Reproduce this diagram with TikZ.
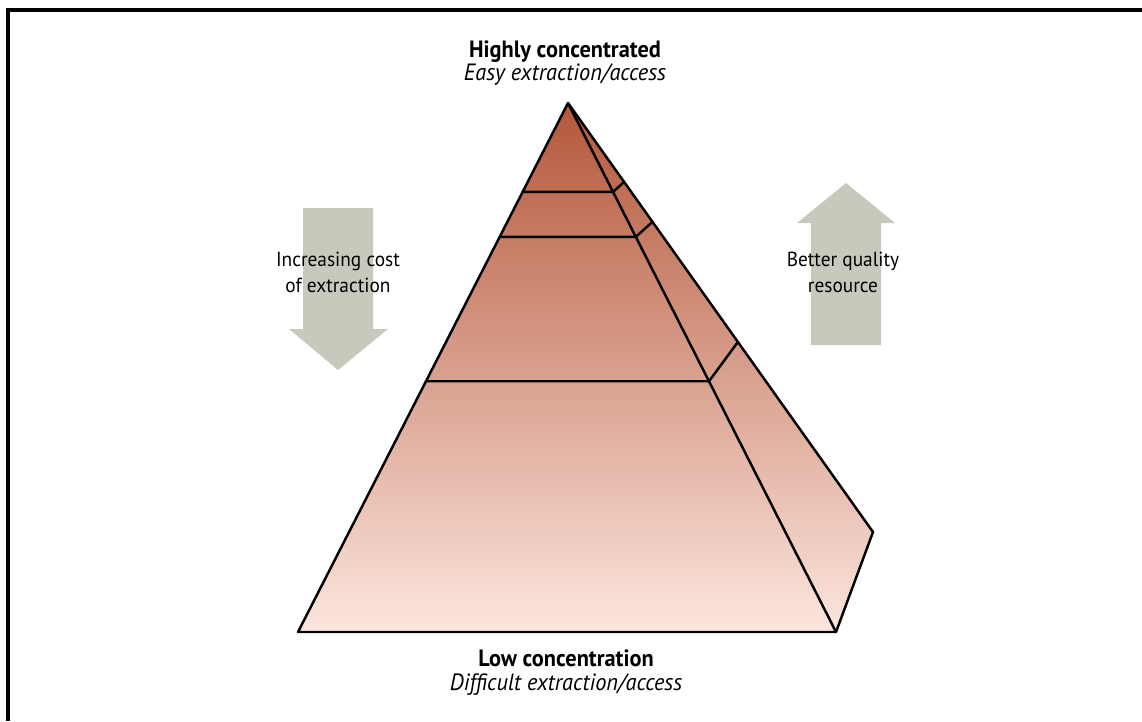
\documentclass[tikz,border=0pt]{standalone}
\usepackage{fontspec}
\setmainfont{PT Sans}[FakeStretch=0.95]
\usetikzlibrary{calc}
\definecolor{pyrtop}{HTML}{B4573A}
\definecolor{pyrbot}{HTML}{FCE6DE}
\definecolor{arrowgrey}{HTML}{C8C9BD}
\tikzset{edge/.style = {line width=1.4pt, line join=round},
         arrowtext/.style = {align=center, font=\fontsize{11.6}{14.7}\selectfont},
         headtext/.style = {align=center, font=\fontsize{13.4}{13.6}\selectfont}}

\begin{document}
\begin{tikzpicture}[x=0.02cm, y=-0.02cm]
    \useasboundingbox (0,0) rectangle (1142,721);
    \draw [line width=2pt] (8,721) -- (8,10) -- (1142,10);
    \fill[arrowgrey] (303,208) -- (373,208) -- (373,329) -- (388,329) -- (338,370) -- (289,329) -- (303,329) -- cycle;
    \fill[arrowgrey] (811,345) -- (881,345) -- (881,223) -- (895,223) -- (846,183) -- (797,223) -- (811,223) -- cycle;
    \coordinate (apex) at (568,103);
    \coordinate (frontL) at (298,632);
    \coordinate (frontR) at (836,632);
    \coordinate (back) at (873,532);
    \shade[top color=pyrtop, bottom color=pyrbot] (apex) -- (frontL) -- (frontR) -- (back) -- cycle;
    \draw[edge] (apex) -- (frontL) -- (frontR) -- (back) -- cycle;
    \draw[edge] (apex) -- (frontR);
    \foreach \a/\b in {0.168/0.184, 0.253/0.277, 0.526/0.557}
      \draw[edge] ($(apex)!\a!(frontL)$) -- ($(apex)!\a!(frontR)$) -- ($(apex)!\b!(back)$);
    \node[headtext] (high) at (565,63) {\textbf{Highly concentrated}\\\textit{Easy extraction/access}};
    \node[headtext] (low) at (566,673) {\textbf{Low concentration}\\\textit{Difficult extraction/access}};
    \node[arrowtext] (cost) at (338,272) {Increasing cost\\of extraction};
    \node[arrowtext] (quality) at (843,272) {Better quality\\resource};
\end{tikzpicture}
\end{document}
